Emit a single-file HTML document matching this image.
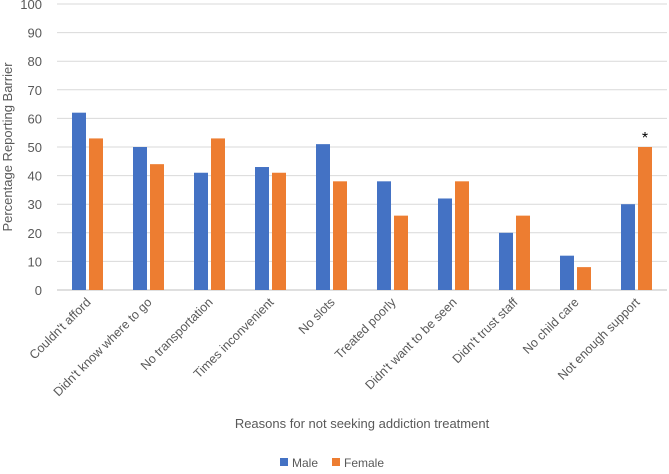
<!DOCTYPE html>
<html><head><meta charset="utf-8"><style>
body{margin:0;background:#fff;}
svg{font-family:"Liberation Sans",sans-serif;}
</style></head><body>
<svg id="chart" width="669" height="469">
<g id="grid"></g><g id="bars"></g><g id="labels"></g>
<text x="12" y="147" transform="rotate(-90 12 147)" text-anchor="middle" font-size="13" fill="#595959">Percentage Reporting Barrier</text>
<text x="362" y="428" text-anchor="middle" font-size="13" fill="#595959">Reasons for not seeking addiction treatment</text>
<g>
<rect x="280" y="458" width="8" height="8" fill="#4472C4"/>
<text x="292" y="467" font-size="12" fill="#595959">Male</text>
<rect x="332" y="458" width="8" height="8" fill="#ED7D31"/>
<text x="344" y="467" font-size="12" fill="#595959">Female</text>
</g>
</svg>
<script>
const categories=["Couldn't afford","Didn't know where to go","No transportation","Times inconvenient","No slots","Treated poorly","Didn't want to be seen","Didn't trust staff","No child care","Not enough support"];
const maleValues=[62,50,41,43,51,38,32,20,12,30];
const femaleValues=[53,44,53,41,38,26,38,26,8,50];
const yTicks=[0,10,20,30,40,50,60,70,80,90,100];
const starCategory="Not enough support";
const NS="http://www.w3.org/2000/svg";
const x0=57,x1=667,yTop=4,yBot=290;
const y=v=>yBot-(v/100)*(yBot-yTop);
const band=(x1-x0)/categories.length;
const xc=i=>x0+band*(i+0.5);
function mk(t,a,p){const e=document.createElementNS(NS,t);for(const k in a)e.setAttribute(k,a[k]);p.appendChild(e);return e;}
const grid=document.getElementById('grid'),bars=document.getElementById('bars'),labels=document.getElementById('labels');
yTicks.forEach(t=>{
 const l=mk('line',{x1:x0,x2:x1,y1:y(t),y2:y(t),stroke:t===0?'#bfbfbf':'#d9d9d9','stroke-width':1},grid);
 
 
 const tx=mk('text',{x:42,y:y(t)+5,'text-anchor':'end','font-size':13,fill:'#595959'},grid);
 tx.textContent=t;
 
 
});
const bw=14,gap=3;
categories.forEach((c,i)=>{
 const cx=xc(i);
 const m=mk('rect',{x:cx-gap/2-bw,y:y(maleValues[i]),width:bw,height:yBot-y(maleValues[i]),fill:'#4472C4'},bars);
 
 
 const f=mk('rect',{x:cx+gap/2,y:y(femaleValues[i]),width:bw,height:yBot-y(femaleValues[i]),fill:'#ED7D31'},bars);
 
 
 const t=mk('text',{x:cx+4,y:303,'text-anchor':'end','font-size':12.5,fill:'#595959',transform:`rotate(-45 ${cx+4} 303)`},labels);
 t.textContent=c;
 
 
 if(c===starCategory){
  const s=mk('text',{x:cx+gap/2+bw/2,y:y(femaleValues[i])-4,'text-anchor':'middle','font-size':16,fill:'#000'},labels);
  s.textContent='*';
  
  
 }
});
</script>
</body></html>
